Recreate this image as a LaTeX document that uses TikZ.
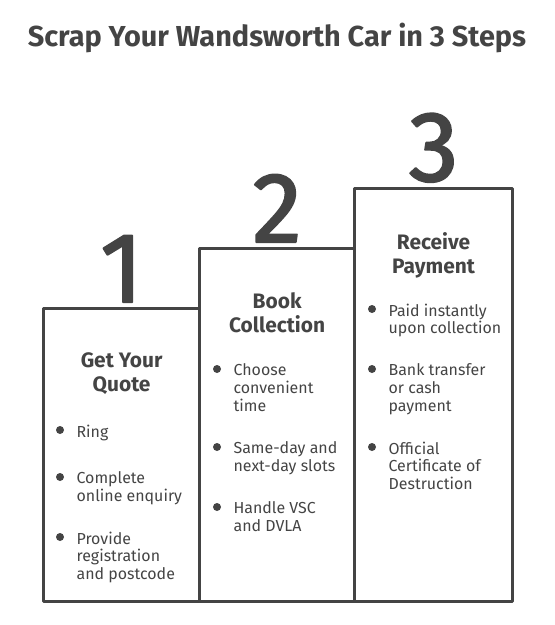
\documentclass[tikz,border=0pt]{standalone}
\usepackage{fontspec}
\setmainfont{Fira Sans}
\newfontfamily\numfont[FakeBold=2]{Fira Sans}
\usepackage{tikz}
\usetikzlibrary{positioning}
\definecolor{ink}{HTML}{444444}

\begin{document}
\begin{tikzpicture}[x=1bp, y=-1bp, line width=3.2bp, color=ink, line join=round,
    stepbox/.style={draw, rectangle, inner sep=0pt, anchor=south west},
    stepnum/.style={inner sep=0pt, font=\numfont\fontsize{100}{100}\selectfont},
    steptitle/.style={inner sep=0pt, align=center, font=\bfseries\fontsize{21}{24}\selectfont},
    item/.style={inner sep=0pt, anchor=north west, align=left, font=\fontsize{16}{18}\selectfont},
    dot/.style={circle, fill, inner sep=0pt, minimum size=8bp}]
\useasboundingbox (0,0) rectangle (555,625);
%%%%% Title %%%%%
\node[font=\bfseries\fontsize{29}{32}\selectfont] (title) at (277,38) {Scrap Your Wandsworth Car in 3 Steps};
%%%%% Steps %%%%%
\node[stepbox, minimum width=156bp, minimum height=293bp] (box1) at (42,603) {};
\node[stepbox, minimum width=155bp, minimum height=353bp] (box2) at (198,603) {};
\node[stepbox, minimum width=158bp, minimum height=413bp] (box3) at (353,603) {};
\foreach \n in {1,2,3}{
\node[stepnum, above=3bp of box\n.north] (num\n) {\n};
}
\node[steptitle, below=44bp of box1.north] (head1) {Get Your\\Quote};
\node[steptitle, below=44bp of box2.north] (head2) {Book\\Collection};
\node[steptitle, below=44bp of box3.north] (head3) {Receive\\Payment};
%%%%% Items %%%%%
\foreach \x/\y/\t [count=\k] in {60/430/Ring, 60/477/{Complete\\online enquiry}, 60/537/{Provide\\registration\\and postcode},
    217/369/{Choose\\convenient\\time}, 217/447/{Same-day and\\next-day slots}, 217/507/{Handle VSC\\and DVLA},
    372/309/{Paid instantly\\upon collection}, 372/369/{Bank transfer\\or cash\\payment}, 372/447/{Official\\Certificate of\\Destruction}}{
\node[dot] (dot\k) at (\x,\y) {};
\node[item] (item\k) at (\x+15,\y-7) {\t};
}
\end{tikzpicture}
\end{document}
